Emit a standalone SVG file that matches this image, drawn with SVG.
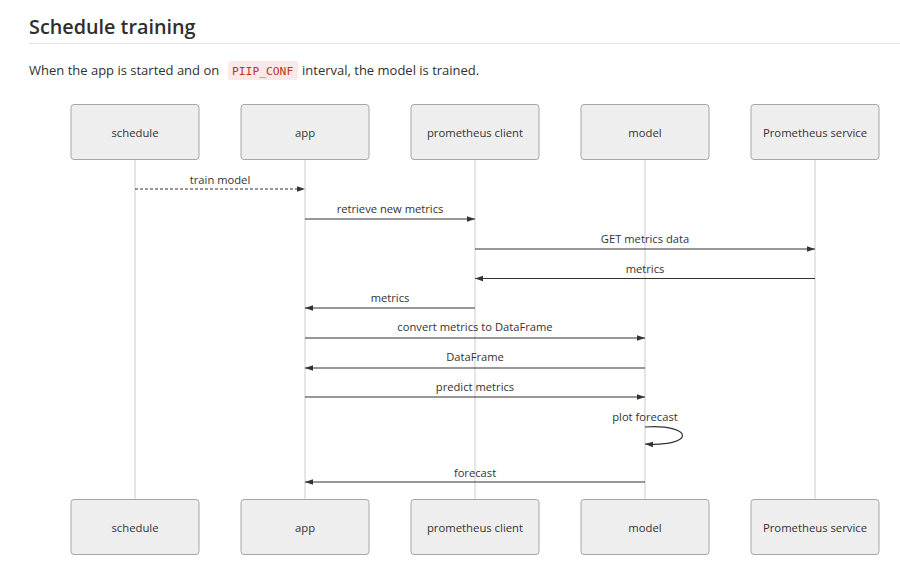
<svg xmlns="http://www.w3.org/2000/svg" width="900" height="566" viewBox="0 0 900 566">
<style>
.h{font-family:"Open Sans","Noto Sans",sans-serif;font-size:19.8px;font-weight:600;fill:#2e2e2e}
.p{font-family:"Open Sans","Noto Sans",sans-serif;font-size:13px;fill:#303030}
.code{font-family:"DejaVu Sans Mono","Liberation Mono",monospace;font-size:11.3px;fill:#c0341d}
.box rect{fill:#eeeeee;stroke:#a6a6a6;stroke-width:1}
.box text{font-family:"Open Sans","Noto Sans",sans-serif;font-size:11.3px;fill:#333;text-anchor:middle}
.life{stroke:#cccccc;stroke-width:1}
.msg{stroke:#333;stroke-width:1.2;fill:none}
.lbl{font-family:"Open Sans","Noto Sans",sans-serif;font-size:11.2px;fill:#333;text-anchor:middle}
</style>
<defs>
<marker id="ah" viewBox="0 0 10 10" refX="10" refY="5" markerWidth="8" markerHeight="8" markerUnits="userSpaceOnUse" orient="auto-start-reverse">
<path d="M0,1.5 L10,5 L0,8.5 z" fill="#333"/>
</marker>
</defs>
<rect width="900" height="566" fill="#fff"/>
<text class="h" x="29" y="34">Schedule training</text>
<line x1="29" y1="43.5" x2="900" y2="43.5" stroke="#e5e5e5"/>
<text class="p" x="29" y="75">When the app is started and on</text>
<rect x="228" y="61" width="70" height="19" rx="3" fill="#fbe9e9"/>
<text class="code" x="232" y="75">PIIP_CONF</text>
<text class="p" x="302" y="75">interval, the model is trained.</text>

<g id="lifelines">
<line class="life" x1="135" y1="159" x2="135" y2="499"/>
<line class="life" x1="305" y1="159" x2="305" y2="499"/>
<line class="life" x1="475" y1="159" x2="475" y2="499"/>
<line class="life" x1="645" y1="159" x2="645" y2="499"/>
<line class="life" x1="815" y1="159" x2="815" y2="499"/>
</g>

<g id="schedule" class="box"><rect x="71" y="104.5" width="128" height="55" rx="3"/><text x="135" y="136.5">schedule</text></g>
<g id="app" class="box"><rect x="241" y="104.5" width="128" height="55" rx="3"/><text x="305" y="136.5">app</text></g>
<g id="prometheus-client" class="box"><rect x="411" y="104.5" width="128" height="55" rx="3"/><text x="475" y="136.5">prometheus client</text></g>
<g id="model" class="box"><rect x="581" y="104.5" width="128" height="55" rx="3"/><text x="645" y="136.5">model</text></g>
<g id="prometheus-service" class="box"><rect x="751" y="104.5" width="128" height="55" rx="3"/><text x="815" y="136.5">Prometheus service</text></g>

<g id="schedule-bottom" class="box"><rect x="71" y="499.5" width="128" height="55" rx="3"/><text x="135" y="531.5">schedule</text></g>
<g id="app-bottom" class="box"><rect x="241" y="499.5" width="128" height="55" rx="3"/><text x="305" y="531.5">app</text></g>
<g id="prometheus-client-bottom" class="box"><rect x="411" y="499.5" width="128" height="55" rx="3"/><text x="475" y="531.5">prometheus client</text></g>
<g id="model-bottom" class="box"><rect x="581" y="499.5" width="128" height="55" rx="3"/><text x="645" y="531.5">model</text></g>
<g id="prometheus-service-bottom" class="box"><rect x="751" y="499.5" width="128" height="55" rx="3"/><text x="815" y="531.5">Prometheus service</text></g>

<g id="connectors">
<line class="msg" x1="135" y1="189" x2="305" y2="189" stroke-dasharray="3,2" marker-end="url(#ah)"/>
<text class="lbl" x="220" y="184">train model</text>
<line class="msg" x1="305" y1="219" x2="475" y2="219" marker-end="url(#ah)"/>
<text class="lbl" x="390" y="213">retrieve new metrics</text>
<line class="msg" x1="475" y1="249" x2="815" y2="249" marker-end="url(#ah)"/>
<text class="lbl" x="645" y="243">GET metrics data</text>
<line class="msg" x1="815" y1="278.5" x2="475" y2="278.5" marker-end="url(#ah)"/>
<text class="lbl" x="645" y="273">metrics</text>
<line class="msg" x1="475" y1="308" x2="305" y2="308" marker-end="url(#ah)"/>
<text class="lbl" x="390" y="302">metrics</text>
<line class="msg" x1="305" y1="338" x2="645" y2="338" marker-end="url(#ah)"/>
<text class="lbl" x="475" y="331">convert metrics to DataFrame</text>
<line class="msg" x1="645" y1="368" x2="305" y2="368" marker-end="url(#ah)"/>
<text class="lbl" x="475" y="361">DataFrame</text>
<line class="msg" x1="305" y1="397" x2="645" y2="397" marker-end="url(#ah)"/>
<text class="lbl" x="475" y="391">predict metrics</text>
<path class="msg" d="M645,427 C695,424 695,447 645,444" marker-end="url(#ah)"/>
<text class="lbl" x="645" y="421">plot forecast</text>
<line class="msg" x1="645" y1="482" x2="305" y2="482" marker-end="url(#ah)"/>
<text class="lbl" x="475" y="477">forecast</text>
</g>
</svg>
